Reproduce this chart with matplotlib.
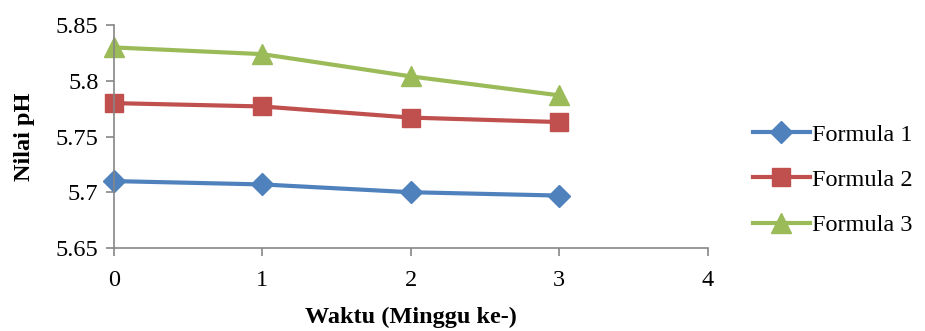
import matplotlib.pyplot as plt

plt.rcParams['font.family'] = ['Liberation Serif', 'DejaVu Serif']

weeks = [0, 1, 2, 3]
formula1 = [5.710, 5.707, 5.700, 5.697]
formula2 = [5.780, 5.777, 5.767, 5.763]
formula3 = [5.830, 5.824, 5.804, 5.787]
labels = ['Formula 1', 'Formula 2', 'Formula 3']

fs = 17.5

fig = plt.figure(figsize=(9.25, 3.31), dpi=100)
ax = fig.add_axes([0.123, 0.251, 0.642, 0.673])

ax.plot(weeks, formula1, color='#4F81BD', lw=3, marker='D', ms=11, label=labels[0])
ax.plot(weeks, formula2, color='#C0504D', lw=3, marker='s', ms=12.5, label=labels[1])
ax.plot(weeks, formula3, color='#9BBB59', lw=3, marker='^', ms=14, label=labels[2])

ax.set_xlim(0, 4)
ax.set_ylim(5.65, 5.85)
ax.set_xticks([0, 1, 2, 3, 4])
ax.set_yticks([5.65, 5.7, 5.75, 5.8, 5.85])
ax.set_yticklabels(['5.65', '5.7', '5.75', '5.8', '5.85'])
for lbl in ax.get_xticklabels() + ax.get_yticklabels():
    lbl.set_fontsize(fs)
ax.tick_params(axis='both', color='#868686', length=6, width=1.2)
ax.tick_params(axis='x', pad=10)
ax.tick_params(axis='y', pad=5)

for side in ['top', 'right']:
    ax.spines[side].set_visible(False)
for side in ['left', 'bottom']:
    ax.spines[side].set_color('#868686')
    ax.spines[side].set_linewidth(1.2)
for line in ax.get_lines():
    line.set_clip_on(False)

ax.set_xlabel('Waktu (Minggu ke-)', fontsize=fs, fontweight='bold', labelpad=11)
ax.set_ylabel('Nilai pH', fontsize=fs, fontweight='bold', labelpad=15)

ax.legend(loc='center left', bbox_to_anchor=(1.076, 0.305), frameon=False,
          fontsize=fs, handlelength=2.35, handletextpad=0.1, labelspacing=0.95,
          borderpad=0, borderaxespad=0)

fig.savefig('out.png', dpi=100)
